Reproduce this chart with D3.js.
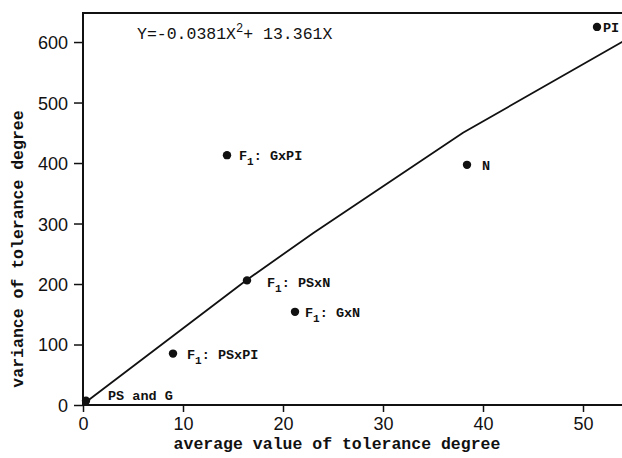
<!DOCTYPE html>
<html>
<head>
<meta charset="utf-8">
<script src="https://cdn.jsdelivr.net/npm/d3@7"></script>
<style>
  body { margin: 0; background: #fff; }
  svg { display: block; }
</style>
</head>
<body>
<div id="chart"></div>
<script>
// scatter points: average value (x) vs variance (y) of tolerance degree
const pointNames = ["PS and G", "F1: PSxPI", "F1: PSxN", "F1: GxN", "F1: GxPI", "N", "PI"];
const pointX = [0.3, 9.0, 16.4, 21.2, 14.4, 38.4, 51.4];
const pointY = [7, 85, 206, 154, 413, 397, 625];

// regression curve as drawn (vertices)
const curveX = [0.3, 16.4, 23, 38, 54];
const curveY = [5, 207, 284, 450, 601];

const xTicks = [0, 10, 20, 30, 40, 50];
const yTicks = [0, 100, 200, 300, 400, 500, 600];

const width = 622, height = 458;
const margin = { top: 13, right: 0, bottom: 53, left: 83 };

const svg = d3.select("#chart").append("svg")
    .attr("width", width)
    .attr("height", height);

const x = d3.scaleLinear().domain([0, 53.9]).range([margin.left, width - margin.right]);
const y = d3.scaleLinear().domain([0, 648]).range([height - margin.bottom, margin.top]);

const mono = "'Liberation Mono', 'DejaVu Sans Mono', monospace";

// x axis
const xAxis = svg.append("g")
    .attr("transform", "translate(0," + y(0) + ")")
    .call(d3.axisBottom(x).tickValues(xTicks).tickSize(7).tickPadding(5));
xAxis.select(".domain").remove();
xAxis.selectAll("text")
    .style("font-family", "'Liberation Sans', Arial, sans-serif")
    .style("font-size", "18px")
    .attr("fill", "#111");
xAxis.selectAll("line").attr("stroke", "#111").attr("stroke-width", 1.5);

// y axis
const yAxis = svg.append("g")
    .attr("transform", "translate(" + x(0) + ",0)")
    .call(d3.axisLeft(y).tickValues(yTicks).tickSize(9).tickPadding(6));
yAxis.select(".domain").remove();
yAxis.selectAll("text")
    .style("font-family", "'Liberation Sans', Arial, sans-serif")
    .style("font-size", "18px")
    .attr("dy", "0.36em")
    .attr("fill", "#111");
yAxis.selectAll("line").attr("stroke", "#111").attr("stroke-width", 1.5);

// frame: left, top, bottom
svg.append("path")
    .attr("d", "M" + width + "," + y(648) + "H" + x(0) + "V" + y(0) + "H" + width)
    .attr("fill", "none")
    .attr("stroke", "#111")
    .attr("stroke-width", 2);

// curve
const line = d3.line().x(d => x(d[0])).y(d => y(d[1]));
svg.append("path")
    .datum(d3.zip(curveX, curveY))
    .attr("d", line)
    .attr("fill", "none")
    .attr("stroke", "#111")
    .attr("stroke-width", 1.8);

// points
const pts = d3.range(pointNames.length).map(i => ({ name: pointNames[i], x: pointX[i], y: pointY[i] }));
svg.selectAll(".pt")
    .data(pts)
    .enter().append("circle")
    .attr("class", "pt")
    .attr("cx", d => x(d.x))
    .attr("cy", d => y(d.y))
    .attr("r", 4.2)
    .attr("fill", "#111");

// label offsets in pixels
const labelDx = [22, 14, 20, 10, 12, 15, 6];
const labelDy = [-6, 0, 2, 0, 0, 0, 0];

const labels = svg.selectAll(".lbl")
    .data(pts)
    .enter().append("text")
    .attr("class", "lbl")
    .attr("x", (d, i) => x(d.x) + labelDx[i])
    .attr("y", (d, i) => y(d.y) + labelDy[i] + 5)
    .style("font-family", mono)
    .style("font-weight", "bold")
    .style("font-size", "13.5px")
    .attr("fill", "#111");

labels.each(function (d) {
    const t = d3.select(this);
    if (d.name.startsWith("F1")) {
        t.append("tspan").text("F");
        t.append("tspan").attr("dy", 5).style("font-size", "11px").text("1");
        t.append("tspan").attr("dy", -5).text(d.name.slice(2));
    } else {
        t.text(d.name);
    }
});

// regression equation
const eq = svg.append("text")
    .attr("x", 137)
    .attr("y", 39)
    .style("font-family", mono)
    .style("font-size", "16.5px")
    .attr("fill", "#111");
eq.append("tspan").text("Y=-0.0381X");
eq.append("tspan").attr("dy", -7).style("font-size", "12px").text("2");
eq.append("tspan").attr("dy", 7).text("+ 13.361X");

// axis titles
svg.append("text")
    .attr("x", 337)
    .attr("y", 449)
    .attr("text-anchor", "middle")
    .style("font-family", mono)
    .style("font-weight", "bold")
    .style("font-size", "16.5px")
    .attr("fill", "#111")
    .text("average value of tolerance degree");

svg.append("text")
    .attr("transform", "translate(23," + 249 + ") rotate(-90)")
    .attr("text-anchor", "middle")
    .style("font-family", mono)
    .style("font-weight", "bold")
    .style("font-size", "16.5px")
    .attr("fill", "#111")
    .text("variance of tolerance degree");
</script>
</body>
</html>
